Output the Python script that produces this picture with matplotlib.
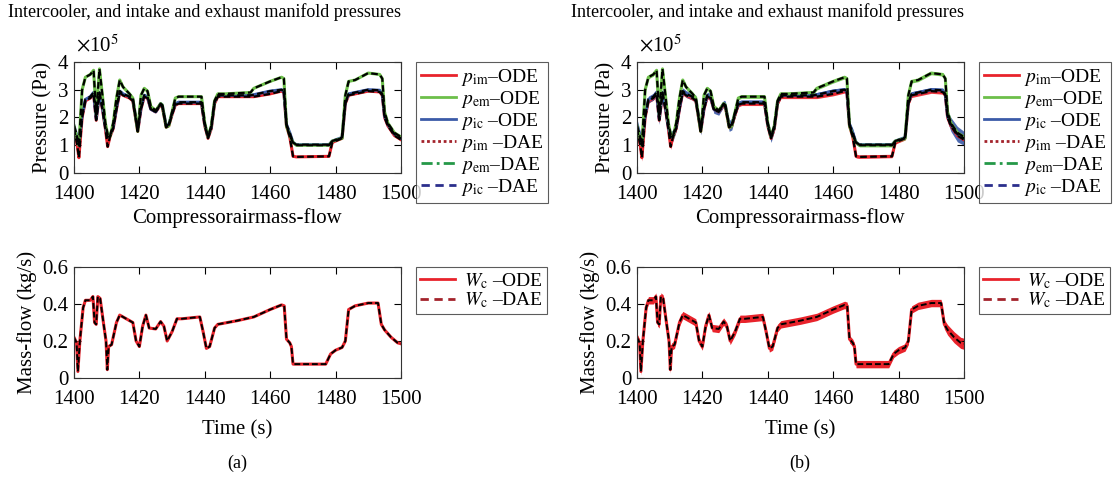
import numpy as np
import matplotlib
matplotlib.use('Agg')
import matplotlib.pyplot as plt
from matplotlib.lines import Line2D

plt.rcParams['font.family'] = ['Liberation Serif', 'DejaVu Serif']
plt.rcParams['mathtext.fontset'] = 'stix'

# время, с (общая сетка для давлений)
t_p = [1400, 1401, 1401.5, 1402.5, 1403.5, 1405, 1406, 1406.8, 1407.8, 1408.7,
       1409.6, 1410.3, 1411, 1412, 1413, 1414, 1415, 1417, 1418, 1419.5,
       1420.5, 1421.5, 1422.5, 1423.5, 1425, 1426.5, 1427, 1428.2, 1429, 1430,
       1431, 1432, 1439, 1440, 1441, 1442, 1443, 1444, 1446, 1454,
       1455, 1460, 1463.5, 1464.2, 1465, 1466, 1467, 1468, 1478, 1479,
       1482, 1483, 1484, 1486, 1490, 1493.5, 1494.3, 1495, 1496, 1498, 1500]

# давления, x1e5 Па
p_em = [1.7, 1.2, 1.0, 3.0, 3.45, 3.55, 3.7, 2.1, 3.75, 2.8,
        1.8, 1.4, 1.3, 1.8, 2.7, 3.35, 3.1, 2.85, 2.7, 1.5,
        2.8, 3.05, 2.95, 2.4, 2.25, 2.5, 2.45, 1.65, 1.7, 2.2,
        2.7, 2.75, 2.75, 1.8, 1.3, 1.7, 2.6, 2.85, 2.85, 2.9,
        3.05, 3.3, 3.45, 3.4, 1.7, 1.35, 1.1, 1.0, 1.0, 1.15,
        1.25, 2.8, 3.3, 3.35, 3.6, 3.55, 3.4, 2.2, 1.8, 1.45, 1.3]
p_im = [1.6, 1.0, 0.55, 2.0, 2.6, 2.7, 2.85, 1.9, 2.85, 2.3,
        1.6, 0.95, 1.3, 1.6, 2.3, 2.9, 2.8, 2.7, 2.6, 1.5,
        2.3, 2.75, 2.7, 2.3, 2.2, 2.45, 2.4, 1.65, 1.7, 2.1,
        2.45, 2.5, 2.5, 1.7, 1.25, 1.6, 2.5, 2.75, 2.75, 2.75,
        2.75, 2.85, 2.95, 2.9, 1.7, 1.3, 0.6, 0.58, 0.6, 1.1,
        1.25, 2.5, 2.8, 2.85, 2.95, 2.92, 2.8, 2.0, 1.7, 1.35, 1.2]
p_ic = [1.7, 1.3, 1.0, 2.1, 2.65, 2.75, 2.9, 1.95, 2.9, 2.35,
        1.65, 1.3, 1.35, 1.65, 2.35, 2.95, 2.85, 2.75, 2.65, 1.55,
        2.35, 2.8, 2.75, 2.3, 2.2, 2.5, 2.45, 1.7, 1.75, 2.15,
        2.5, 2.55, 2.55, 1.75, 1.3, 1.65, 2.55, 2.8, 2.8, 2.8,
        2.82, 2.95, 3.0, 2.95, 1.75, 1.45, 1.1, 1.02, 1.02, 1.15,
        1.28, 2.55, 2.85, 2.9, 3.0, 2.98, 2.85, 2.05, 1.75, 1.4, 1.25]

# разброс (полуширина полосы) для панели (b)
ic_band = [0.25, 0.2, 0.2, 0.15, 0.12, 0.12, 0.12, 0.2, 0.15, 0.15,
           0.2, 0.2, 0.2, 0.15, 0.15, 0.12, 0.12, 0.12, 0.15, 0.18,
           0.15, 0.12, 0.12, 0.15, 0.12, 0.12, 0.15, 0.2, 0.2, 0.15,
           0.1, 0.08, 0.08, 0.15, 0.2, 0.15, 0.1, 0.08, 0.08, 0.08,
           0.08, 0.08, 0.08, 0.08, 0.12, 0.15, 0.08, 0.06, 0.06, 0.06,
           0.06, 0.08, 0.08, 0.08, 0.08, 0.08, 0.1, 0.2, 0.25, 0.28, 0.25]
im_band = [0.1, 0.1, 0.12, 0.1, 0.08, 0.08, 0.08, 0.1, 0.08, 0.08,
           0.1, 0.1, 0.08, 0.08, 0.08, 0.08, 0.08, 0.08, 0.08, 0.08,
           0.08, 0.08, 0.08, 0.08, 0.07, 0.07, 0.07, 0.08, 0.08, 0.08,
           0.07, 0.07, 0.07, 0.08, 0.08, 0.08, 0.07, 0.07, 0.07, 0.07,
           0.07, 0.07, 0.07, 0.07, 0.08, 0.08, 0.06, 0.05, 0.05, 0.06,
           0.06, 0.07, 0.08, 0.08, 0.08, 0.08, 0.08, 0.08, 0.08, 0.08, 0.08]
em_band = [0.06] * len(t_p)

# массовый расход компрессора, кг/с
t_w = [1400, 1400.8, 1401.2, 1401.8, 1402.8, 1403.5, 1405, 1405.8, 1406.3, 1406.8,
       1407.3, 1408, 1409, 1409.8, 1410.2, 1410.6, 1411.5, 1413, 1414, 1416,
       1418, 1419, 1420, 1421, 1422, 1423, 1425, 1426.5, 1427.5, 1428.5,
       1430, 1431.5, 1433, 1438.5, 1439.5, 1440.5, 1441.5, 1443, 1444, 1450,
       1455, 1460, 1463.5, 1464.3, 1465, 1466, 1466.5, 1467, 1470, 1477,
       1478.5, 1480, 1482, 1483, 1484, 1486, 1490, 1493, 1494, 1495,
       1497, 1499, 1500]
w_c = [0.22, 0.19, 0.035, 0.2, 0.38, 0.42, 0.42, 0.44, 0.3, 0.29,
       0.44, 0.43, 0.3, 0.2, 0.045, 0.17, 0.18, 0.3, 0.34, 0.32,
       0.3, 0.2, 0.17, 0.28, 0.34, 0.27, 0.265, 0.305, 0.28, 0.2,
       0.25, 0.32, 0.32, 0.33, 0.25, 0.16, 0.17, 0.27, 0.29, 0.31,
       0.33, 0.37, 0.395, 0.39, 0.21, 0.19, 0.17, 0.075, 0.075, 0.075,
       0.13, 0.15, 0.165, 0.2, 0.37, 0.39, 0.405, 0.405, 0.29, 0.26,
       0.22, 0.19, 0.185]
w_band = [0.02] * (len(t_w) - 5) + [0.025, 0.028, 0.03, 0.03, 0.03]

title = 'Intercooler, and intake and exhaust manifold pressures'
xticks = [1400, 1420, 1440, 1460, 1480, 1500]

c_red, c_green, c_blue = '#e8232b', '#6cbf4a', '#3b5ba8'
c_dred, c_dgreen, c_dblue = '#a3232b', '#259848', '#2b2f8c'
fs = 15
lfs = 14


def style_axes(ax, ylim, yticks, yticklabels, xpad):
    ax.set_xlim(1400, 1500)
    ax.set_ylim(*ylim)
    ax.set_xticks(xticks)
    ax.set_yticks(yticks)
    ax.set_yticklabels(yticklabels)
    ax.tick_params(direction='in', top=True, right=True, length=5, labelsize=fs)
    ax.tick_params(axis='x', pad=xpad)
    ax.tick_params(axis='y', pad=4)
    for s in ax.spines.values():
        s.set_linewidth(0.8)
        s.set_color('#333333')


fig = plt.figure(figsize=(11.14, 4.8), dpi=100)

for k, x0 in enumerate([0.0664, 0.5718]):
    ax1 = fig.add_axes([x0, 0.6396, 0.2935, 0.2313])
    ax2 = fig.add_axes([x0, 0.2125, 0.2935, 0.2313])
    band = (k == 1)

    # давления: ODE цветные, DAE поверх чёрным пунктиром
    for vals, bw, col in ((p_im, im_band, c_red), (p_ic, ic_band, c_blue), (p_em, em_band, c_green)):
        v = np.array(vals)
        if band:
            ax1.fill_between(t_p, v - np.array(bw), v + np.array(bw), color=col, lw=0, alpha=0.9)
        ax1.plot(t_p, v, color=col, lw=2.2)
    for vals in (p_im, p_ic, p_em):
        ax1.plot(t_p, vals, color='black', lw=1.6, ls=(0, (3, 1.5)))

    style_axes(ax1, (0, 4), [0, 1, 2, 3, 4], ['0', '1', '2', '3', '4'], xpad=8.5)
    ax1.set_ylabel('Pressure (Pa)', fontsize=fs, labelpad=4)
    ax1.set_xlabel('Compressorairmass-flow', fontsize=fs, labelpad=3)
    ax1.text(0.005, 1.05, r'$\times$10$^5$', transform=ax1.transAxes, fontsize=fs,
             ha='left', va='bottom')
    fig.text(x0 - 0.059, 0.975, title, fontsize=13, ha='left', va='center')

    handles = [Line2D([], [], color=c_red, lw=2),
               Line2D([], [], color=c_green, lw=2),
               Line2D([], [], color=c_blue, lw=2),
               Line2D([], [], color=c_dred, lw=2, ls=(0, (1, 1))),
               Line2D([], [], color=c_dgreen, lw=2, ls=(0, (4, 1.5, 1, 1.5))),
               Line2D([], [], color=c_dblue, lw=2, ls=(0, (3, 2)))]
    labels = [r'$p_{\mathrm{im}}$–ODE', r'$p_{\mathrm{em}}$–ODE', r'$p_{\mathrm{ic}}$ –ODE',
              r'$p_{\mathrm{im}}$ –DAE', r'$p_{\mathrm{em}}$–DAE', r'$p_{\mathrm{ic}}$ –DAE']
    leg = ax1.legend(handles, labels, loc='upper left', bbox_to_anchor=(1.045, 1.0),
                     fontsize=lfs, frameon=True, fancybox=False, edgecolor='#333333',
                     handlelength=1.8, handletextpad=0.3, labelspacing=0.05,
                     borderpad=0.25, borderaxespad=0)
    leg.get_frame().set_linewidth(0.8)

    # массовый расход
    w = np.array(w_c)
    if band:
        ax2.fill_between(t_w, w - np.array(w_band), w + np.array(w_band), color=c_red, lw=0)
    ax2.plot(t_w, w, color=c_red, lw=2.2)
    ax2.plot(t_w, w, color='black', lw=1.4, ls=(0, (3, 1.5)))
    style_axes(ax2, (0, 0.6), [0, 0.2, 0.4, 0.6], ['0', '0.2', '0.4', '0.6'], xpad=9)
    ax2.set_ylabel('Mass-flow (kg/s)', fontsize=fs, labelpad=4)
    ax2.set_xlabel('Time (s)', fontsize=fs, labelpad=8)
    h2 = [Line2D([], [], color=c_red, lw=2),
          Line2D([], [], color=c_dred, lw=2, ls=(0, (3, 2)))]
    l2 = [r'$W_{\mathrm{c}}$ –ODE', r'$W_{\mathrm{c}}$ –DAE']
    leg2 = ax2.legend(h2, l2, loc='upper left', bbox_to_anchor=(1.045, 1.0),
                      fontsize=lfs, frameon=True, fancybox=False, edgecolor='#333333',
                      handlelength=1.8, handletextpad=0.5, labelspacing=0.0,
                      borderpad=0.2, borderaxespad=0)
    leg2.get_frame().set_linewidth(0.8)

    fig.text(x0 + 0.1465, 0.035, ['(a)', '(b)'][k], fontsize=13, ha='center', va='center')

fig.savefig('out.png', dpi=100)
